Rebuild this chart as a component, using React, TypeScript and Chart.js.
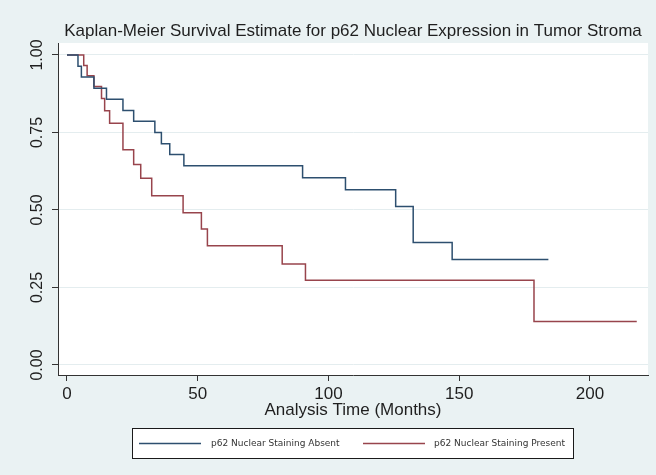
import React, { useEffect, useRef } from 'react';
import { Chart, registerables } from 'chart.js';

Chart.register(...registerables);

const TITLE = 'Kaplan-Meier Survival Estimate for p62 Nuclear Expression in Tumor Stroma';
const X_TITLE = 'Analysis Time (Months)';
const X_TICKS = [0, 50, 100, 150, 200];
const Y_TICKS = [0, 0.25, 0.5, 0.75, 1];
const Y_TICK_LABELS = ['0.00', '0.25', '0.50', '0.75', '1.00'];
const SERIES_LABELS = ['p62 Nuclear Staining Absent', 'p62 Nuclear Staining Present'];
const SERIES_COLORS = ['#2d4f6f', '#98444c'];

// Absent group (blue)
const ABSENT_TIME = [0, 4.2, 5.5, 10.3, 15.1, 21.4, 25.5, 33.6, 36.1, 39.3, 44.7, 90.1, 106.5, 125.7, 132.4, 147.3, 184.1];
const ABSENT_SURV = [1, 0.964, 0.929, 0.893, 0.857, 0.821, 0.786, 0.75, 0.714, 0.679, 0.643, 0.604, 0.565, 0.511, 0.395, 0.34, 0.34];

// Present group (red)
const PRESENT_TIME = [0, 6.4, 7.7, 10.3, 13.2, 14.4, 16.3, 21.4, 25.5, 28.2, 32.4, 44.4, 51.4, 53.7, 82.3, 91.2, 178.6, 217.9];
const PRESENT_SURV = [1, 0.966, 0.933, 0.898, 0.86, 0.82, 0.78, 0.694, 0.647, 0.602, 0.546, 0.491, 0.439, 0.385, 0.326, 0.273, 0.14, 0.14];

const X_MIN = -3.44;
const X_MAX = 222.2;
const Y_MIN = -0.0323;
const Y_MAX = 1.0387;

const FONT = '"Liberation Sans", Arial, sans-serif';
const BG = '#eaf2f3';

const decorPlugin = {
  id: 'decor',
  beforeDraw(chart: any) {
    const { ctx, chartArea } = chart;
    ctx.save();
    ctx.fillStyle = BG;
    ctx.fillRect(0, 0, chart.width, chart.height);
    ctx.fillStyle = '#ffffff';
    ctx.fillRect(chartArea.left, chartArea.top, chartArea.right - chartArea.left, chartArea.bottom - chartArea.top);
    ctx.restore();
  },
  afterDraw(chart: any) {
    const { ctx, chartArea } = chart;
    const yScale = chart.scales.y;
    const cx = (chartArea.left + chartArea.right) / 2;
    ctx.save();
    // title
    ctx.fillStyle = '#1f1f1f';
    ctx.font = `17px ${FONT}`;
    ctx.textAlign = 'center';
    ctx.textBaseline = 'middle';
    ctx.fillText(TITLE, cx, 31);
    // rotated y tick labels
    ctx.font = `16px ${FONT}`;
    ctx.fillStyle = '#1f1f1f';
    Y_TICKS.forEach((v, i) => {
      const y = yScale.getPixelForValue(v);
      ctx.save();
      ctx.translate(chartArea.left - 20, y);
      ctx.rotate(-Math.PI / 2);
      ctx.textAlign = 'center';
      ctx.textBaseline = 'middle';
      ctx.fillText(Y_TICK_LABELS[i], 0, 0);
      ctx.restore();
    });
    // legend
    const boxL = cx - 221;
    const boxT = 428;
    const boxW = 442;
    const boxH = 31;
    ctx.fillStyle = '#ffffff';
    ctx.fillRect(boxL, boxT, boxW, boxH);
    ctx.strokeStyle = '#1a1a1a';
    ctx.lineWidth = 1;
    ctx.strokeRect(boxL + 0.5, boxT + 0.5, boxW - 1, boxH - 1);
    const ly = boxT + boxH / 2;
    const items = [
      { x: boxL + 7, tx: boxL + 79 },
      { x: boxL + 231, tx: boxL + 302 },
    ];
    ctx.font = `9px "DejaVu Sans", sans-serif`;
    ctx.textAlign = 'left';
    ctx.textBaseline = 'middle';
    items.forEach((it, i) => {
      const ds = chart.data.datasets[i];
      ctx.strokeStyle = ds.borderColor;
      ctx.lineWidth = 1.5;
      ctx.beginPath();
      ctx.moveTo(it.x, ly);
      ctx.lineTo(it.x + 62, ly);
      ctx.stroke();
      ctx.fillStyle = '#333333';
      ctx.fillText(ds.label, it.tx, ly);
    });
    ctx.restore();
  },
};

export default function App() {
  const ref = useRef<HTMLCanvasElement | null>(null);
  useEffect(() => {
    if (!ref.current) return;
    const chart = new Chart(ref.current, {
      type: 'line',
      data: {
        datasets: [
          {
            label: SERIES_LABELS[0],
            data: ABSENT_TIME.map((t, i) => ({ x: t, y: ABSENT_SURV[i] })),
            borderColor: SERIES_COLORS[0],
            borderWidth: 1.5,
            pointRadius: 0,
            stepped: 'before',
            fill: false,
          },
          {
            label: SERIES_LABELS[1],
            data: PRESENT_TIME.map((t, i) => ({ x: t, y: PRESENT_SURV[i] })),
            borderColor: SERIES_COLORS[1],
            borderWidth: 1.5,
            pointRadius: 0,
            stepped: 'before',
            fill: false,
          },
        ],
      },
      options: {
        animation: false,
        responsive: false,
        maintainAspectRatio: false,
        devicePixelRatio: 1,
        layout: { padding: { left: 0, right: 8, top: 43, bottom: 0 } },
        plugins: {
          legend: { display: false },
          title: { display: false },
          tooltip: { enabled: false },
        },
        scales: {
          x: {
            type: 'linear',
            min: X_MIN,
            max: X_MAX,
            afterBuildTicks: (s: any) => {
              s.ticks = X_TICKS.map((v) => ({ value: v }));
            },
            afterFit: (s: any) => {
              s.height = 100;
            },
            grid: {
              drawOnChartArea: false,
              drawTicks: true,
              tickLength: 6,
              tickColor: '#333333',
              tickWidth: 1,
            },
            border: { display: true, color: '#333333', width: 1 },
            ticks: {
              autoSkip: false,
              maxRotation: 0,
              minRotation: 0,
              padding: 3,
              color: '#1f1f1f',
              font: { family: FONT, size: 17 },
              callback: (v: any) => String(v),
            },
            title: {
              display: true,
              text: X_TITLE,
              color: '#1f1f1f',
              font: { family: FONT, size: 17 },
              padding: { top: 0, bottom: 54 },
            },
          },
          y: {
            type: 'linear',
            min: Y_MIN,
            max: Y_MAX,
            afterBuildTicks: (s: any) => {
              s.ticks = Y_TICKS.map((v) => ({ value: v }));
            },
            afterFit: (s: any) => {
              s.width = 58;
            },
            grid: {
              drawOnChartArea: true,
              color: '#e4edef',
              lineWidth: 1,
              drawTicks: true,
              tickLength: 6,
              tickColor: '#333333',
              tickWidth: 1,
            },
            border: { display: true, color: '#333333', width: 1 },
            ticks: { display: false },
          },
        },
      },
      plugins: [decorPlugin],
    });
    return () => chart.destroy();
  }, []);
  return (
    <div style={{ position: 'absolute', left: 0, top: 0, width: 656, height: 475 }}>
      <canvas ref={ref} width={656} height={475} style={{ display: 'block' }} />
    </div>
  );
}
